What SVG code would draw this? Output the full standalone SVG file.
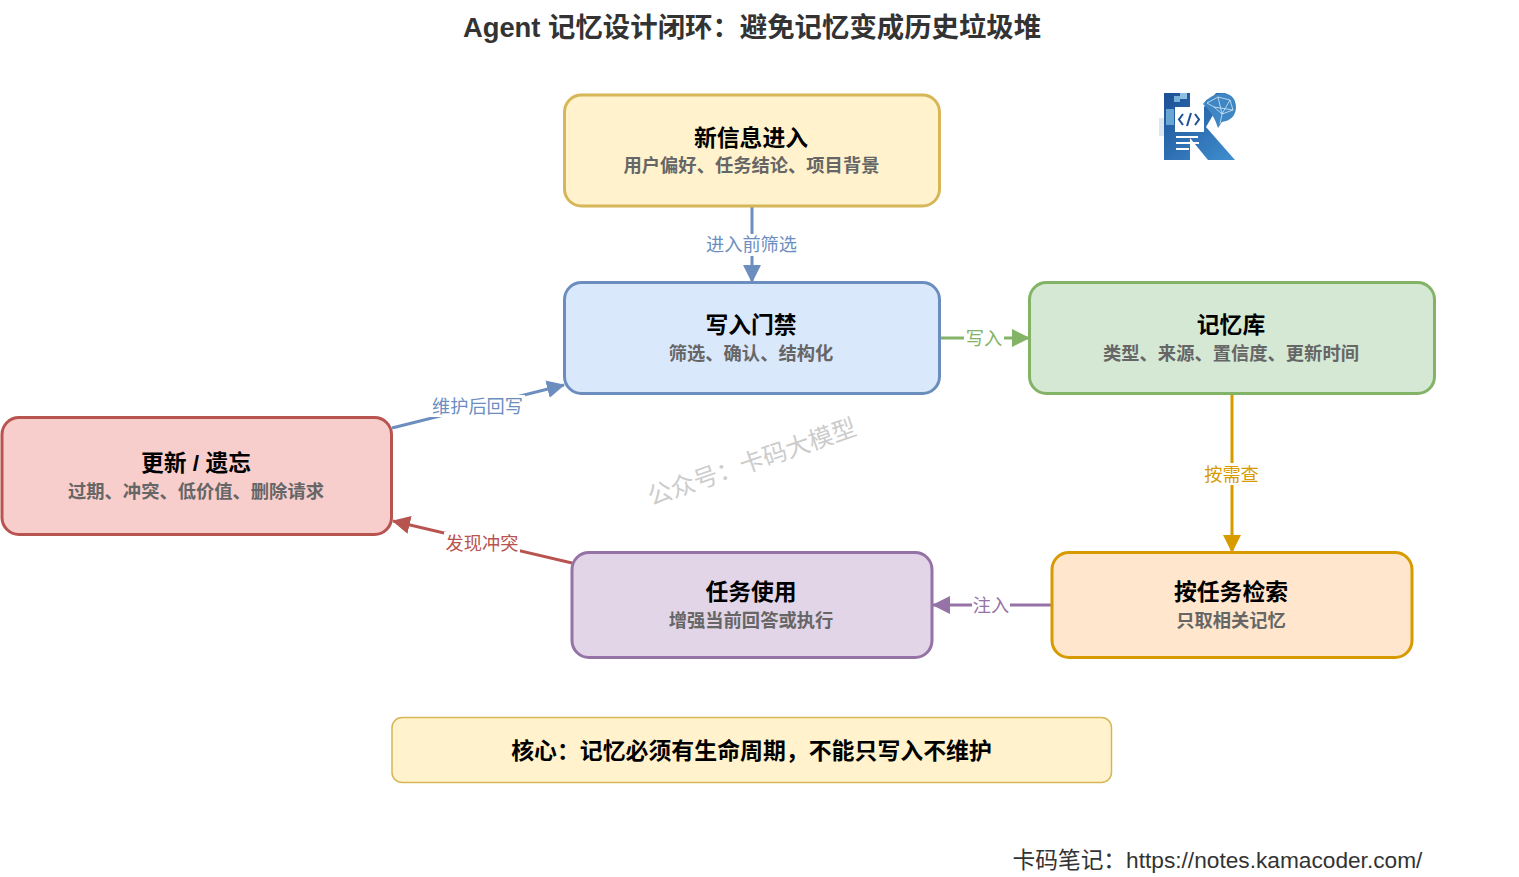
<svg xmlns="http://www.w3.org/2000/svg" width="1519" height="877" viewBox="0 0 1519 877">
<style>
text{font-family:"Liberation Sans","Noto Sans CJK SC",sans-serif;text-anchor:middle}
.b{stroke-width:3}
.t{font-size:22.800px;font-weight:700;fill:#000}
.s{font-size:18.300px;font-weight:700;fill:#666}
.l{font-size:18.200px}
.c{fill:none;stroke-width:3}
</style>
<defs>
<marker id="ab" markerUnits="userSpaceOnUse" markerWidth="20" markerHeight="20" refX="17" refY="9" orient="auto"><path d="M0 0L18 9L0 18Z" fill="#6c8ebf"/></marker>
<marker id="ag" markerUnits="userSpaceOnUse" markerWidth="20" markerHeight="20" refX="17" refY="9" orient="auto"><path d="M0 0L18 9L0 18Z" fill="#82b366"/></marker>
<marker id="ao" markerUnits="userSpaceOnUse" markerWidth="20" markerHeight="20" refX="17" refY="9" orient="auto"><path d="M0 0L18 9L0 18Z" fill="#d79b00"/></marker>
<marker id="ap" markerUnits="userSpaceOnUse" markerWidth="20" markerHeight="20" refX="17" refY="9" orient="auto"><path d="M0 0L18 9L0 18Z" fill="#9673a6"/></marker>
<marker id="ar" markerUnits="userSpaceOnUse" markerWidth="20" markerHeight="20" refX="17" refY="9" orient="auto"><path d="M0 0L18 9L0 18Z" fill="#b85450"/></marker>
<linearGradient id="kg" x1="0" y1="0" x2="1" y2="1"><stop offset="0" stop-color="#1c4f94"/><stop offset="1" stop-color="#3f8fd0"/></linearGradient>
</defs>
<rect width="1519" height="877" fill="#fff"/>
<text x="752" y="36.500" style="font-size:27.400px;font-weight:700;fill:#333">Agent 记忆设计闭环：避免记忆变成历史垃圾堆</text>

<g id="connectors">
<path class="c" stroke="#6c8ebf" d="M752 207V282" marker-end="url(#ab)"/>
<path class="c" stroke="#82b366" d="M940 338H1029" marker-end="url(#ag)"/>
<path class="c" stroke="#d79b00" d="M1232 394V552" marker-end="url(#ao)"/>
<path class="c" stroke="#9673a6" d="M1052 605H933" marker-end="url(#ap)"/>
<path class="c" stroke="#b85450" d="M572 563L393 521" marker-end="url(#ar)"/>
<path class="c" stroke="#6c8ebf" d="M392 428L564 385" marker-end="url(#ab)"/>
<g class="l">
<rect x="705" y="234" width="94" height="22" fill="#fff"/>
<text x="751.500" y="251" fill="#6c8ebf">进入前筛选</text>
<rect x="964" y="327" width="40" height="22" fill="#fff"/>
<text x="984" y="345" fill="#82b366">写入</text>
<rect x="1203" y="463" width="58" height="22" fill="#fff"/>
<text x="1231.500" y="481" fill="#d79b00">按需查</text>
<rect x="972" y="594" width="38" height="22" fill="#fff"/>
<text x="991" y="612" fill="#9673a6">注入</text>
<rect x="444" y="532" width="76" height="22" fill="#fff"/>
<text x="482" y="550" fill="#b85450">发现冲突</text>
<rect x="430" y="395" width="95" height="22" fill="#fff"/>
<text x="477.500" y="413" fill="#6c8ebf">维护后回写</text>
</g>
</g>

<g id="node-new">
<rect class="b" x="564.500" y="95" width="375" height="111" rx="17" fill="#fff2cc" stroke="#d6b656"/>
<text class="t" x="751" y="145.500">新信息进入</text>
<text class="s" x="751.500" y="172">用户偏好、任务结论、项目背景</text>
</g>
<g id="node-gate">
<rect class="b" x="564.500" y="282.500" width="375" height="111" rx="17" fill="#dae8fc" stroke="#6c8ebf"/>
<text class="t" x="751" y="332.500">写入门禁</text>
<text class="s" x="751" y="359.500">筛选、确认、结构化</text>
</g>
<g id="node-store">
<rect class="b" x="1029.500" y="282.500" width="405" height="111" rx="17" fill="#d5e8d4" stroke="#82b366"/>
<text class="t" x="1231" y="332.500">记忆库</text>
<text class="s" x="1231" y="359.500">类型、来源、置信度、更新时间</text>
</g>
<g id="node-update">
<rect class="b" x="2" y="417.500" width="389.500" height="117" rx="17" fill="#f8cecc" stroke="#b85450"/>
<text class="t" x="196" y="470.500">更新 / 遗忘</text>
<text class="s" x="196" y="497.500">过期、冲突、低价值、删除请求</text>
</g>
<g id="node-use">
<rect class="b" x="572" y="552.500" width="360" height="105" rx="17" fill="#e1d5e7" stroke="#9673a6"/>
<text class="t" x="751" y="599.500">任务使用</text>
<text class="s" x="751" y="626.500">增强当前回答或执行</text>
</g>
<g id="node-search">
<rect class="b" x="1052" y="552.500" width="360" height="105" rx="17" fill="#ffe6cc" stroke="#d79b00"/>
<text class="t" x="1231" y="599.500">按任务检索</text>
<text class="s" x="1231" y="626.500">只取相关记忆</text>
</g>
<g id="node-core">
<rect x="392" y="717.500" width="719.500" height="65" rx="10" fill="#fff2cc" stroke="#d6b656" stroke-width="1.500"/>
<text x="751.500" y="758.500" style="font-size:22.900px;font-weight:700;fill:#000">核心：记忆必须有生命周期，不能只写入不维护</text>
</g>

<g id="logo">
<path d="M1164 93H1190V107H1204L1216 93H1226L1206 127L1235 160H1208L1190 138V160H1164Z" fill="url(#kg)"/>
<rect x="1174" y="96" width="6" height="6" fill="#7ab1d9"/><rect x="1180" y="93" width="7" height="6" fill="#8fc0e2"/>
<rect x="1166" y="109" width="8" height="16" fill="#6aa6d3"/>
<rect x="1159" y="118" width="5" height="18" fill="#dfe7ee"/>
<rect x="1175" y="107" width="29" height="25" fill="#fff"/>
<path d="M1183 114L1179 119.500L1183 125M1195 114L1199 119.500L1195 125M1191 113L1187 126" stroke="#1c4f94" stroke-width="2" fill="none"/>
<path d="M1176 137H1198M1176 143H1199M1176 149H1189" stroke="#fff" stroke-width="2.200" fill="none"/>
<path d="M1203 104Q1210 94 1224 93Q1236 95 1236 108Q1235 120 1222 122L1218 128Q1214 114 1203 104Z" fill="#3f86c4"/>
<path d="M1207 103L1218 97L1230 100L1233 110L1222 114L1214 107ZM1218 97L1222 114L1220 124M1230 100L1222 114M1214 107L1233 110" stroke="#d6eaf8" stroke-width="0.800" fill="none"/>
</g>

<text transform="translate(754.500 470) rotate(-19)" style="font-size:24.300px;fill:#ccc">公众号：卡码大模型</text>
<text x="1217.500" y="868" style="font-size:22.700px;fill:#333">卡码笔记：https://notes.kamacoder.com/</text>
</svg>
